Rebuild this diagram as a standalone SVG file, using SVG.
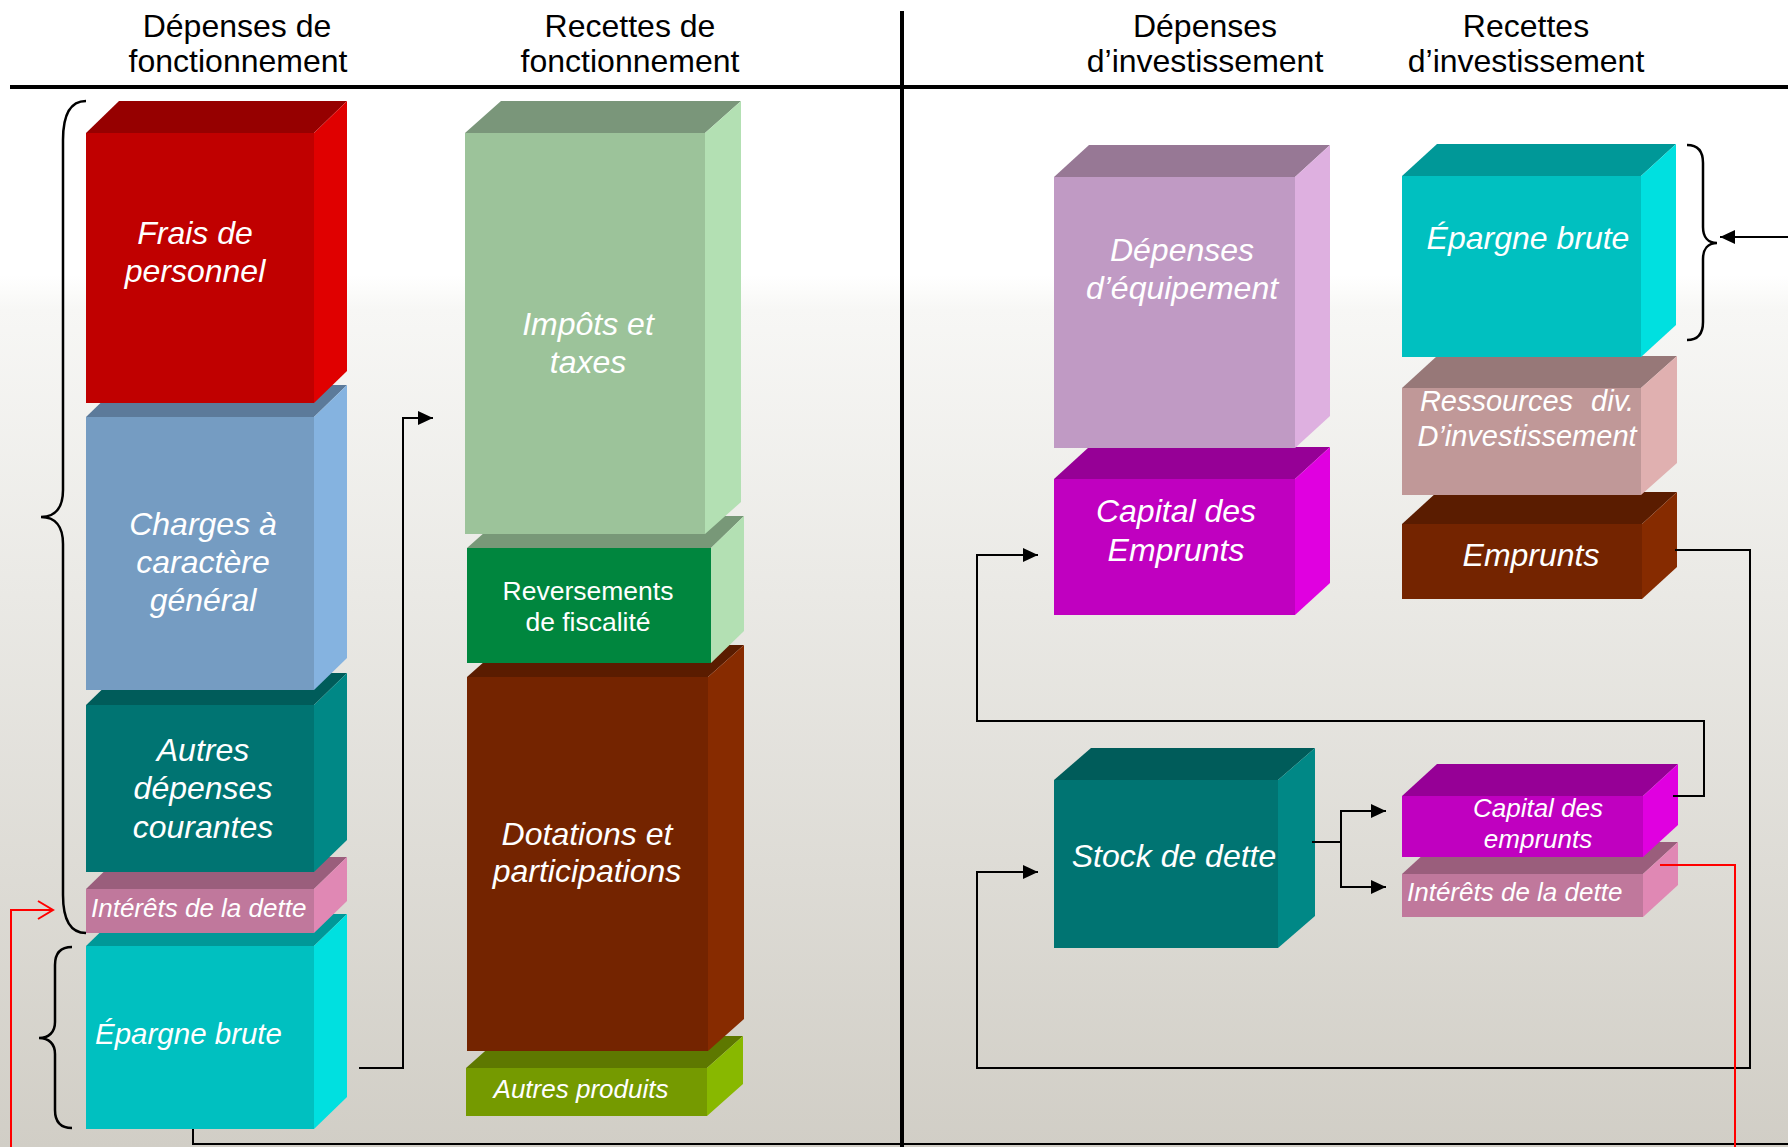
<svg xmlns="http://www.w3.org/2000/svg" width="1788" height="1147" viewBox="0 0 1788 1147">
<defs>
<linearGradient id="bg" x1="0" y1="0" x2="0" y2="1">
<stop offset="0" stop-color="#ffffff"/>
<stop offset="0.24" stop-color="#ffffff"/>
<stop offset="0.27" stop-color="#f7f7f5"/>
<stop offset="1" stop-color="#d1cec6"/>
</linearGradient>
<marker id="ah" markerUnits="userSpaceOnUse" markerWidth="16" markerHeight="14" refX="15" refY="7" orient="auto"><path d="M0,0 L15,7 L0,14 z" fill="#000"/></marker>
<marker id="ahr" markerUnits="userSpaceOnUse" markerWidth="18" markerHeight="20" refX="16" refY="10" orient="auto"><path d="M1,1 L16,10 L1,19" fill="none" stroke="#ff0000" stroke-width="2"/></marker>
</defs>
<style>
.hdr{font-family:"Liberation Sans",Arial,sans-serif;font-size:32px;fill:#000;text-anchor:middle}
.lbl{font-family:"Liberation Sans",Arial,sans-serif;font-size:32px;fill:#fff;font-style:italic;text-anchor:middle}
.sm{font-size:26px}
.st{text-anchor:start}
.up{font-style:normal}
.con{fill:none;stroke:#000;stroke-width:2}
.red{fill:none;stroke:#ff0000;stroke-width:2}
.brace{fill:none;stroke:#000;stroke-width:2.5}
</style>
<rect x="0" y="0" width="1788" height="1147" fill="url(#bg)"/>

<g id="headers">
<text class="hdr" x="237" y="37">Dépenses de</text>
<text class="hdr" x="238" y="72">fonctionnement</text>
<text class="hdr" x="630" y="37">Recettes de</text>
<text class="hdr" x="630" y="72">fonctionnement</text>
<text class="hdr" x="1205" y="37">Dépenses</text>
<text class="hdr" x="1205" y="72">d’investissement</text>
<text class="hdr" x="1526" y="37">Recettes</text>
<text class="hdr" x="1526" y="72">d’investissement</text>
<line x1="10" y1="87" x2="1788" y2="87" stroke="#000" stroke-width="4"/>
<line x1="902" y1="11" x2="902" y2="1147" stroke="#000" stroke-width="4"/>
</g>

<!-- Left column: Dépenses de fonctionnement (bottom first) -->
<g id="epargne-brute-f">
<polygon points="86,946 119,914 347,914 314,946" fill="#009898"/>
<polygon points="314,946 347,914 347,1097 314,1129" fill="#00e0e0"/>
<rect x="86" y="946" width="228" height="183" fill="#00c0c0"/>
<text class="lbl" style="font-size:29.5px;text-anchor:start" x="95" y="1044">Épargne brute</text>
</g>
<g id="interets-f">
<polygon points="86,889 119,857 347,857 314,889" fill="#9a5e7c"/>
<polygon points="314,889 347,857 347,901 314,933" fill="#e088b4"/>
<rect x="86" y="889" width="228" height="44" fill="#c0789c"/>
<text class="lbl sm st" x="91" y="917">Intérêts de la dette</text>
</g>
<g id="autres-depenses">
<polygon points="86,705 119,673 347,673 314,705" fill="#005c5a"/>
<polygon points="314,705 347,673 347,840 314,872" fill="#008886"/>
<rect x="86" y="705" width="228" height="167" fill="#007472"/>
<text class="lbl" x="203" y="761">Autres</text>
<text class="lbl" x="203" y="799">dépenses</text>
<text class="lbl" x="203" y="838">courantes</text>
</g>
<g id="charges">
<polygon points="86,417 119,385 347,385 314,417" fill="#5c7a9a"/>
<polygon points="314,417 347,385 347,658 314,690" fill="#85b3e0"/>
<rect x="86" y="417" width="228" height="273" fill="#759cc2"/>
<text class="lbl" x="203" y="535">Charges à</text>
<text class="lbl" x="203" y="573">caractère</text>
<text class="lbl" x="203" y="611">général</text>
</g>
<g id="frais-personnel">
<polygon points="86,133 119,101 347,101 314,133" fill="#960000"/>
<polygon points="314,133 347,101 347,371 314,403" fill="#e00000"/>
<rect x="86" y="133" width="228" height="270" fill="#c00000"/>
<text class="lbl" x="195" y="244">Frais de</text>
<text class="lbl" x="195" y="282">personnel</text>
</g>

<!-- Recettes de fonctionnement -->
<g id="autres-produits">
<polygon points="466,1068 502,1036 743,1036 707,1068" fill="#5e7800"/>
<polygon points="707,1068 743,1036 743,1084 707,1116" fill="#88b800"/>
<rect x="466" y="1068" width="241" height="48" fill="#759a00"/>
<text class="lbl sm" x="581" y="1098">Autres produits</text>
</g>
<g id="dotations">
<polygon points="467,677 503,645 744,645 708,677" fill="#5a1c00"/>
<polygon points="708,677 744,645 744,1019 708,1051" fill="#872b00"/>
<rect x="467" y="677" width="241" height="374" fill="#742400"/>
<text class="lbl" x="587" y="845">Dotations et</text>
<text class="lbl" x="587" y="882">participations</text>
</g>
<g id="reversements">
<polygon points="467,548 503,516 744,516 711,548" fill="#789878"/>
<polygon points="711,548 744,516 744,631 711,663" fill="#b3e0b3"/>
<rect x="467" y="548" width="244" height="115" fill="#00863e"/>
<text class="lbl sm up" style="font-size:26.5px" x="588" y="600">Reversements</text>
<text class="lbl sm up" style="font-size:26.5px" x="588" y="631">de fiscalité</text>
</g>
<g id="impots">
<polygon points="465,133 501,101 741,101 705,133" fill="#7a967a"/>
<polygon points="705,133 741,101 741,502 705,534" fill="#b3e0b3"/>
<rect x="465" y="133" width="240" height="401" fill="#9cc39a"/>
<text class="lbl" x="588" y="335">Impôts et</text>
<text class="lbl" x="588" y="373">taxes</text>
</g>

<!-- Dépenses d'investissement -->
<g id="stock-dette">
<polygon points="1054,780 1091,748 1315,748 1278,780" fill="#005c5a"/>
<polygon points="1278,780 1315,748 1315,916 1278,948" fill="#008886"/>
<rect x="1054" y="780" width="224" height="168" fill="#007472"/>
<text class="lbl" x="1174" y="867">Stock de dette</text>
</g>
<g id="capital-emprunts-d">
<polygon points="1054,479 1089,447 1330,447 1295,479" fill="#960096"/>
<polygon points="1295,479 1330,447 1330,583 1295,615" fill="#e000e0"/>
<rect x="1054" y="479" width="241" height="136" fill="#c000c0"/>
<text class="lbl" x="1176" y="522">Capital des</text>
<text class="lbl" x="1176" y="561">Emprunts</text>
</g>
<g id="depenses-equipement">
<polygon points="1054,177 1089,145 1330,145 1295,177" fill="#977895"/>
<polygon points="1295,177 1330,145 1330,416 1295,448" fill="#deb0e0"/>
<rect x="1054" y="177" width="241" height="271" fill="#c09ac4"/>
<text class="lbl" x="1182" y="261">Dépenses</text>
<text class="lbl" x="1182" y="299">d’équipement</text>
</g>

<!-- Recettes d'investissement -->
<g id="interets-i">
<polygon points="1402,874 1437,842 1678,842 1643,874" fill="#9a5e7c"/>
<polygon points="1643,874 1678,842 1678,885 1643,917" fill="#e088b4"/>
<rect x="1402" y="874" width="241" height="43" fill="#c0789c"/>
<text class="lbl sm st" x="1407" y="901">Intérêts de la dette</text>
</g>
<g id="capital-emprunts-i">
<polygon points="1402,796 1437,764 1678,764 1643,796" fill="#960096"/>
<polygon points="1643,796 1678,764 1678,825 1643,857" fill="#e000e0"/>
<rect x="1402" y="796" width="241" height="61" fill="#c000c0"/>
<text class="lbl sm" x="1538" y="817">Capital des</text>
<text class="lbl sm" x="1538" y="848">emprunts</text>
</g>
<g id="emprunts">
<polygon points="1402,524 1437,492 1677,492 1642,524" fill="#5a1c00"/>
<polygon points="1642,524 1677,492 1677,567 1642,599" fill="#862b00"/>
<rect x="1402" y="524" width="240" height="75" fill="#742400"/>
<text class="lbl" x="1531" y="566">Emprunts</text>
</g>
<g id="ressources">
<polygon points="1402,388 1437,356 1677,356 1641,388" fill="#977878"/>
<polygon points="1641,388 1677,356 1677,463 1641,495" fill="#e0b0b0"/>
<rect x="1402" y="388" width="239" height="107" fill="#c09898"/>
<text class="lbl" style="font-size:29px" x="1527" y="411" word-spacing="10">Ressources div.</text>
<text class="lbl" style="font-size:29px" x="1527" y="446">D’investissement</text>
</g>
<g id="epargne-brute-i">
<polygon points="1402,176 1437,144 1676,144 1641,176" fill="#009898"/>
<polygon points="1641,176 1676,144 1676,325 1641,357" fill="#00e0e0"/>
<rect x="1402" y="176" width="239" height="181" fill="#00c0c0"/>
<text class="lbl" style="font-size:32px" x="1528" y="249">Épargne brute</text>
</g>

<g id="braces">
<path class="brace" d="M86,101 C70,101 63,115 63,140 L63,490 C63,508 55,517 41,517 C55,517 63,526 63,544 L63,895 C63,920 70,933 86,933"/>
<path class="brace" d="M72,947 C61,947 55,953 55,965 L55,1022 C55,1032 49,1038 39,1038 C49,1038 55,1044 55,1054 L55,1110 C55,1122 61,1128 72,1128"/>
<path class="brace" d="M1687,145 C1698,145 1703,151 1703,163 L1703,227 C1703,237 1708,243 1717,243 C1708,243 1703,249 1703,259 L1703,322 C1703,334 1698,340 1687,340"/>
</g>

<g id="connectors">
<path class="con" d="M359,1068 H403 V418 H433" marker-end="url(#ah)"/>
<path class="con" d="M193,1129 V1144 H1800 V237 H1720" marker-end="url(#ah)"/>
<path class="con" d="M1675,550 H1750 V1068 H977 V872 H1038" marker-end="url(#ah)"/>
<path class="con" d="M1673,796 H1704 V721 H977 V555 H1038" marker-end="url(#ah)"/>
<path class="con" d="M1312,842 H1341"/>
<path class="con" d="M1341,842 V811 H1386" marker-end="url(#ah)"/>
<path class="con" d="M1341,842 V887 H1386" marker-end="url(#ah)"/>
<path class="red" d="M1660,865 H1735 V1165 H11 V910 H53" marker-end="url(#ahr)"/>
</g>
</svg>
